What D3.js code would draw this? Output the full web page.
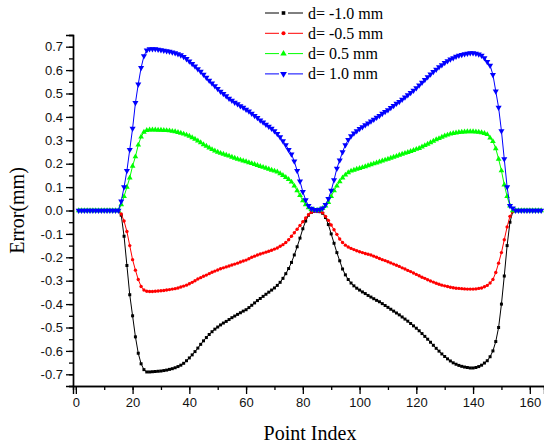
<!DOCTYPE html>
<html>
<head>
<meta charset="utf-8">
<script src="https://cdn.jsdelivr.net/npm/d3@7"></script>
<style>
  body { margin: 0; background: #fff; }
  svg { display: block; }
</style>
</head>
<body>
<svg id="chart" width="544" height="446"></svg>
<script>
// point index 1..164
const pointIndex = d3.range(1, 165);

// d = -1.0 mm
const errM10 = [
  0,0,0,0,0,0,0,0,0,0,0,0,0,0,0,
  -0.02,-0.11,-0.235,-0.36,-0.45,-0.54,-0.61,-0.655,-0.68,-0.69,
  -0.69,-0.689,-0.688,-0.687,-0.686,-0.684,-0.682,-0.679,-0.676,-0.672,
  -0.667,-0.661,-0.653,-0.642,-0.63,-0.617,-0.603,-0.588,-0.572,-0.557,
  -0.543,-0.53,-0.518,-0.507,-0.498,-0.489,-0.481,-0.474,-0.466,-0.458,
  -0.451,-0.444,-0.437,-0.43,-0.424,-0.415,-0.405,-0.395,-0.385,-0.376,
  -0.367,-0.358,-0.349,-0.34,-0.331,-0.32,-0.307,-0.29,-0.27,-0.248,
  -0.222,-0.19,-0.155,-0.118,-0.078,-0.045,-0.02,-0.008,-0.003,-0.002,
  -0.005,-0.012,-0.03,-0.06,-0.1,-0.14,-0.18,-0.215,-0.25,-0.275,
  -0.295,-0.31,-0.322,-0.332,-0.34,-0.348,-0.355,-0.363,-0.37,-0.377,
  -0.384,-0.39,-0.398,-0.406,-0.414,-0.422,-0.43,-0.438,-0.446,-0.455,
  -0.464,-0.473,-0.483,-0.493,-0.503,-0.514,-0.526,-0.538,-0.55,-0.563,
  -0.576,-0.589,-0.601,-0.613,-0.624,-0.634,-0.643,-0.651,-0.657,-0.662,
  -0.666,-0.669,-0.671,-0.673,-0.673,-0.671,-0.667,-0.661,-0.652,-0.642,
  -0.625,-0.6,-0.56,-0.5,-0.4,-0.28,-0.15,-0.05,-0.005,
  0,0,0,0,0,0,0,0,0,0
];

// d = -0.5 mm
const errM05 = [
  0,0,0,0,0,0,0,0,0,0,0,0,0,0,0,
  -0.015,-0.045,-0.09,-0.15,-0.21,-0.255,-0.295,-0.325,-0.34,-0.345,
  -0.346,-0.346,-0.345,-0.344,-0.343,-0.342,-0.34,-0.338,-0.336,-0.334,
  -0.331,-0.327,-0.323,-0.319,-0.313,-0.307,-0.3,-0.293,-0.287,-0.281,
  -0.276,-0.27,-0.264,-0.259,-0.254,-0.249,-0.245,-0.241,-0.237,-0.233,
  -0.229,-0.225,-0.22,-0.216,-0.212,-0.206,-0.2,-0.195,-0.19,-0.186,
  -0.182,-0.178,-0.174,-0.17,-0.165,-0.16,-0.153,-0.146,-0.137,-0.125,
  -0.11,-0.095,-0.08,-0.064,-0.048,-0.032,-0.018,-0.008,-0.003,-0.002,
  -0.004,-0.01,-0.025,-0.042,-0.062,-0.082,-0.102,-0.122,-0.137,-0.148,
  -0.156,-0.162,-0.167,-0.172,-0.176,-0.18,-0.184,-0.187,-0.19,-0.195,
  -0.2,-0.205,-0.21,-0.214,-0.219,-0.224,-0.229,-0.234,-0.239,-0.245,
  -0.25,-0.256,-0.261,-0.267,-0.273,-0.279,-0.285,-0.29,-0.296,-0.301,
  -0.306,-0.311,-0.315,-0.319,-0.322,-0.325,-0.328,-0.33,-0.332,-0.333,
  -0.334,-0.335,-0.336,-0.336,-0.336,-0.335,-0.333,-0.331,-0.326,-0.32,
  -0.31,-0.295,-0.265,-0.225,-0.18,-0.125,-0.07,-0.025,-0.004,
  0,0,0,0,0,0,0,0,0,0
];

// d = 0.5 mm
const errP05 = [
  0,0,0,0,0,0,0,0,0,0,0,0,0,0,0,
  0.025,0.06,0.1,0.14,0.19,0.23,0.28,0.315,0.335,0.343,
  0.345,0.345,0.345,0.344,0.344,0.343,0.342,0.341,0.339,0.337,
  0.334,0.331,0.327,0.323,0.318,0.312,0.305,0.298,0.29,0.282,
  0.275,0.268,0.261,0.255,0.25,0.245,0.241,0.237,0.233,0.228,
  0.224,0.22,0.216,0.212,0.209,0.205,0.201,0.197,0.193,0.189,
  0.185,0.181,0.177,0.173,0.169,0.165,0.158,0.15,0.142,0.133,
  0.122,0.105,0.085,0.065,0.042,0.025,0.012,0.005,0.002,0.001,
  0.003,0.009,0.02,0.035,0.06,0.085,0.105,0.124,0.14,0.152,
  0.162,0.169,0.173,0.177,0.18,0.184,0.188,0.192,0.196,0.2,
  0.204,0.208,0.212,0.216,0.22,0.224,0.228,0.232,0.237,0.241,
  0.245,0.249,0.253,0.257,0.262,0.266,0.272,0.278,0.284,0.29,
  0.297,0.303,0.308,0.314,0.319,0.323,0.327,0.33,0.332,0.334,
  0.335,0.336,0.337,0.337,0.337,0.336,0.335,0.333,0.33,0.325,
  0.31,0.295,0.265,0.22,0.17,0.11,0.06,0.02,0,
  0,0,0,0,0,0,0,0,0,0
];

// d = 1.0 mm
const errP10 = [
  0,0,0,0,0,0,0,0,0,0,0,0,0,0,0,
  0.04,0.1,0.17,0.26,0.35,0.46,0.54,0.61,0.66,0.685,
  0.69,0.69,0.69,0.688,0.686,0.684,0.682,0.679,0.676,0.673,
  0.669,0.664,0.657,0.648,0.638,0.627,0.616,0.605,0.594,0.581,
  0.568,0.556,0.544,0.532,0.52,0.509,0.499,0.489,0.479,0.47,
  0.462,0.455,0.447,0.44,0.432,0.424,0.415,0.405,0.396,0.386,
  0.377,0.368,0.359,0.35,0.34,0.328,0.314,0.297,0.28,0.26,
  0.24,0.21,0.17,0.125,0.08,0.045,0.02,0.008,0.003,0.002,
  0.004,0.01,0.025,0.05,0.085,0.13,0.18,0.215,0.25,0.28,
  0.302,0.318,0.33,0.34,0.349,0.357,0.365,0.373,0.381,0.389,
  0.397,0.405,0.414,0.422,0.43,0.439,0.448,0.457,0.465,0.474,
  0.484,0.494,0.503,0.513,0.524,0.535,0.547,0.559,0.571,0.582,
  0.593,0.603,0.613,0.622,0.631,0.639,0.646,0.652,0.658,0.662,
  0.666,0.669,0.671,0.673,0.673,0.671,0.668,0.662,0.652,0.636,
  0.62,0.58,0.51,0.44,0.34,0.22,0.1,0.02,0.01,
  0,0,0,0,0,0,0,0,0,0
];

const seriesNames = ["d= -1.0 mm", "d= -0.5 mm", "d= 0.5 mm", "d= 1.0 mm"];
const seriesValues = [errM10, errM05, errP05, errP10];
const seriesColors = ["#000000", "#ff0000", "#00ff00", "#0000ff"];
const seriesSymbols = [d3.symbolSquare, d3.symbolCircle, d3.symbolTriangle, d3.symbolTriangle];
const symbolSizes = [9, 9, 14, 16];
const symbolRotate = [0, 0, 0, 180];

const xTicks = [0, 20, 40, 60, 80, 100, 120, 140, 160];
const yTicks = [-0.7, -0.6, -0.5, -0.4, -0.3, -0.2, -0.1, 0, 0.1, 0.2, 0.3, 0.4, 0.5, 0.6, 0.7];

const svg = d3.select("#chart");
const margin = { left: 73, right: 0, top: 35, bottom: 60 };
const W = 544, H = 446;

const x = d3.scaleLinear().domain([-1, 165]).range([margin.left, W - margin.right]);
const y = d3.scaleLinear().domain([-0.75, 0.75]).range([H - margin.bottom, margin.top]);

const fmt = v => v.toFixed(1);

// axes
const xAxisG = svg.append("g").attr("transform", `translate(0,${y(-0.75)})`);
xAxisG.call(d3.axisBottom(x).tickValues(d3.range(0, 165, 10)).tickSize(4).tickFormat(""));
xAxisG.append("g").call(d3.axisBottom(x).tickValues(xTicks).tickSize(8).tickPadding(4).tickFormat(d3.format("d")));

const yAxisG = svg.append("g").attr("transform", `translate(${x(-1)},0)`);
yAxisG.call(d3.axisLeft(y).tickValues(d3.range(-15, 16).map(k => k * 0.05)).tickSize(4).tickFormat(""));
yAxisG.append("g").call(d3.axisLeft(y).tickValues(yTicks).tickSize(7).tickPadding(3).tickFormat(fmt));

svg.selectAll(".domain").attr("stroke", "#000").attr("stroke-width", 1.4);
svg.selectAll(".tick line").attr("stroke", "#000").attr("stroke-width", 1.3);
svg.selectAll(".tick text")
  .attr("font-family", "Liberation Sans, Arial, sans-serif")
  .attr("font-size", 13)
  .attr("fill", "#111");

// lines and markers
const line = d3.line().x((d, i) => x(pointIndex[i])).y(d => y(d));

seriesValues.forEach((vals, s) => {
  const g = svg.append("g");
  g.append("path")
    .datum(vals)
    .attr("d", line)
    .attr("fill", "none")
    .attr("stroke", seriesColors[s])
    .attr("stroke-width", 1);
  const sym = d3.symbol().type(seriesSymbols[s]).size(symbolSizes[s]);
  g.selectAll("path.m")
    .data(vals)
    .enter()
    .append("path")
    .attr("class", "m")
    .attr("d", sym)
    .attr("transform", (d, i) => `translate(${x(pointIndex[i])},${y(d)}) rotate(${symbolRotate[s]})`)
    .attr("fill", seriesColors[s]);
});

// axis titles
svg.append("text")
  .attr("x", 310).attr("y", 440)
  .attr("text-anchor", "middle")
  .attr("font-family", "Liberation Serif, Times New Roman, serif")
  .attr("font-size", 20)
  .text("Point Index");

svg.append("text")
  .attr("transform", `translate(24,${y(0)}) rotate(-90)`)
  .attr("text-anchor", "middle")
  .attr("font-family", "Liberation Serif, Times New Roman, serif")
  .attr("font-size", 20)
  .text("Error(mm)");

// legend
const legend = svg.append("g");
seriesNames.forEach((name, s) => {
  const ly = 13 + s * 20.3;
  const lg = legend.append("g");
  lg.append("line").attr("x1", 265).attr("x2", 279).attr("y1", ly).attr("y2", ly)
    .attr("stroke", seriesColors[s]).attr("stroke-width", 1);
  lg.append("line").attr("x1", 288).attr("x2", 303).attr("y1", ly).attr("y2", ly)
    .attr("stroke", seriesColors[s]).attr("stroke-width", 1);
  lg.append("path")
    .attr("d", d3.symbol().type(seriesSymbols[s]).size(symbolSizes[s] + 4))
    .attr("transform", `translate(283.5,${ly}) rotate(${symbolRotate[s]})`)
    .attr("fill", seriesColors[s]);
  lg.append("text")
    .attr("x", 308).attr("y", ly + 5.5)
    .attr("font-family", "Liberation Serif, Times New Roman, serif")
    .attr("font-size", 16)
    .attr("fill", "#000")
    .text(name);
});
</script>
</body>
</html>
